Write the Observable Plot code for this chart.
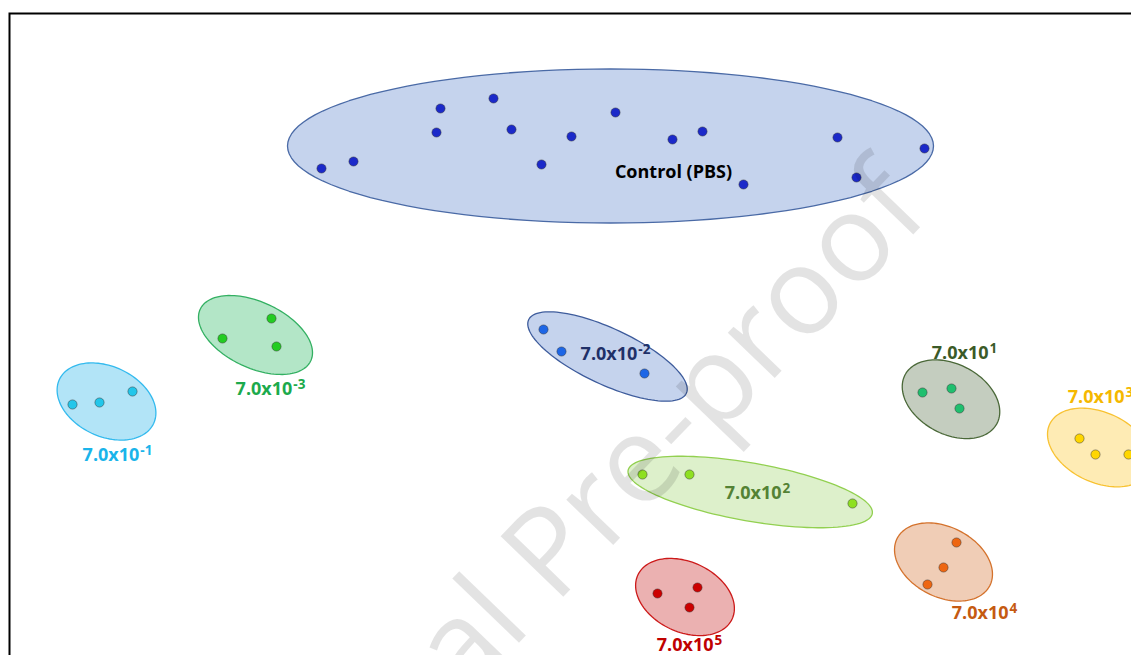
<!DOCTYPE html>
<html><head><meta charset="utf-8">
<script src="https://cdn.jsdelivr.net/npm/d3@7"></script>
<script src="https://cdn.jsdelivr.net/npm/@observablehq/plot@0.6"></script>
<style>html,body{margin:0;padding:0;overflow:hidden;background:#fff} svg{max-width:none !important}</style>
</head><body><div id="chart"></div>
<script>
// ---- groups ----
const groups = ["Control (PBS)", "7.0x10^-2", "7.0x10^-3", "7.0x10^-1", "7.0x10^1", "7.0x10^3", "7.0x10^2", "7.0x10^4", "7.0x10^5"];

// ---- sample scores (two components, picture units) ----
const controlX = [321, 353, 440, 436, 493, 511, 541, 571, 615, 672, 702, 743, 837, 856, 924];
const controlY = [168, 161, 108, 132, 98, 129, 164, 136, 112, 139, 131, 184, 137, 177, 148];
const m2X = [543, 561, 644], m2Y = [329, 351, 373];
const m3X = [222, 271, 276], m3Y = [338, 318, 346];
const m1X = [72, 99, 132],   m1Y = [404, 402, 391];
const p1X = [922, 951, 959], p1Y = [392, 388, 408];
const p3X = [1079, 1095, 1128], p3Y = [438, 454, 454];
const p2X = [642, 689, 852], p2Y = [474, 474, 503];
const p4X = [956, 943, 927], p4Y = [542, 567, 584];
const p5X = [657, 697, 689], p5Y = [593, 587, 607];
const groupX = [controlX, m2X, m3X, m1X, p1X, p3X, p2X, p4X, p5X];
const groupY = [controlY, m2Y, m3Y, m1Y, p1Y, p3Y, p2Y, p4Y, p5Y];

// ---- cluster ellipses: centre, semi-axes, tilt (deg) ----
const ellCx = [610, 607, 255, 106, 950.5, 1099, 749.7, 943, 684.5];
const ellCy = [145.5, 356, 334.5, 401, 398.7, 447, 491.5, 561.5, 596.5];
const ellA  = [323, 87, 61, 52, 52, 55, 124, 52, 52];
const ellB  = [77, 28, 33, 35, 35, 35, 29, 35, 35];
const ellAngle = [0, 25, 25, 25, 28, 25, 10, 27, 25];

// ---- label centres ----
const labelX = [673, 615, 270, 117, 964, 1100, 757, 984, 689];
const labelY = [172, 354, 389, 455, 353, 397, 493, 613, 645];

// ---- styles ----
const pointColor = ["#1b29c9", "#1d66e6", "#22cc22", "#22c6ea", "#1fbf6e", "#ffd600", "#8ee021", "#ee6611", "#cc0000"];
const ellFill    = ["#c5d3ed", "#c5d3ed", "#b3e6c7", "#b2e4f7", "#c4cdbf", "#feebb4", "#ddf0cb", "#f0cdb6", "#ebb1b1"];
const ellStroke  = ["#4a6aa6", "#3e5c9c", "#33b062", "#33baee", "#4a6838", "#f8c232", "#92d050", "#d4722c", "#cc1a1a"];
const labelColor = ["#000000", "#1f3068", "#1caa4c", "#1ab4ea", "#3b5a28", "#f5b800", "#548235", "#c55a11", "#c00000"];
const watermark = "Journal Pre-proof";

// ---- build tables ----
const points = groups.flatMap((g, i) => groupX[i].map((x, j) => ({group: i, x, y: groupY[i][j]})));
const ellipses = groups.flatMap((g, i) => {
  const th = ellAngle[i] * Math.PI / 180;
  return d3.range(0, 121).map(k => {
    const t = (k / 120) * 2 * Math.PI;
    return {
      group: i,
      x: ellCx[i] + ellA[i] * Math.cos(t) * Math.cos(th) - ellB[i] * Math.sin(t) * Math.sin(th),
      y: ellCy[i] + ellA[i] * Math.cos(t) * Math.sin(th) + ellB[i] * Math.sin(t) * Math.cos(th)
    };
  });
});
const labels = groups.map((g, i) => ({group: i, text: g, x: labelX[i], y: labelY[i]}));

const W = 1140, H = 665;
const chart = Plot.plot({
  width: W, height: H,
  marginLeft: 9, marginTop: 13, marginRight: 0, marginBottom: 0,
  x: {domain: [9, W], axis: null},
  y: {domain: [13, H], reverse: true, axis: null},
  color: {type: "identity"},
  style: {background: "#fff", maxWidth: "none"},
  marks: [
    Plot.line(ellipses, {x: "x", y: "y", z: "group", curve: "linear-closed",
      fill: d => ellFill[d.group], stroke: d => ellStroke[d.group], strokeWidth: 1.3}),
    Plot.dot(points, {x: "x", y: "y", r: 4.6, fill: d => pointColor[d.group],
      stroke: "#333", strokeWidth: 0.6, strokeOpacity: 0.8}),
    Plot.text(labels, {x: "x", y: "y", text: "text",
      fill: d => labelColor[d.group], fontSize: 18,
      fontWeight: "bold", fontFamily: "Open Sans"}),
    Plot.text([watermark], {x: () => 932, y: () => 214, text: d => d, rotate: -46,
      textAnchor: "end", lineAnchor: "bottom", fontSize: 122, fontFamily: "Open Sans",
      fill: "#000", fillOpacity: 0.11}),
    Plot.frame({stroke: "#000", strokeWidth: 2})
  ]
});
document.getElementById("chart").appendChild(chart);

// superscripts for the exponent part of the dose labels
d3.select(chart).selectAll("text").each(function() {
  const s = this.textContent;
  const k = s.indexOf("^");
  if (k < 0) return;
  const el = d3.select(this);
  el.text(null);
  el.append("tspan").text(s.slice(0, k));
  el.append("tspan").attr("dy", "-0.45em").attr("font-size", "13.5px").attr("dx", "1").text(s.slice(k + 1));
});
</script>
</body></html>
